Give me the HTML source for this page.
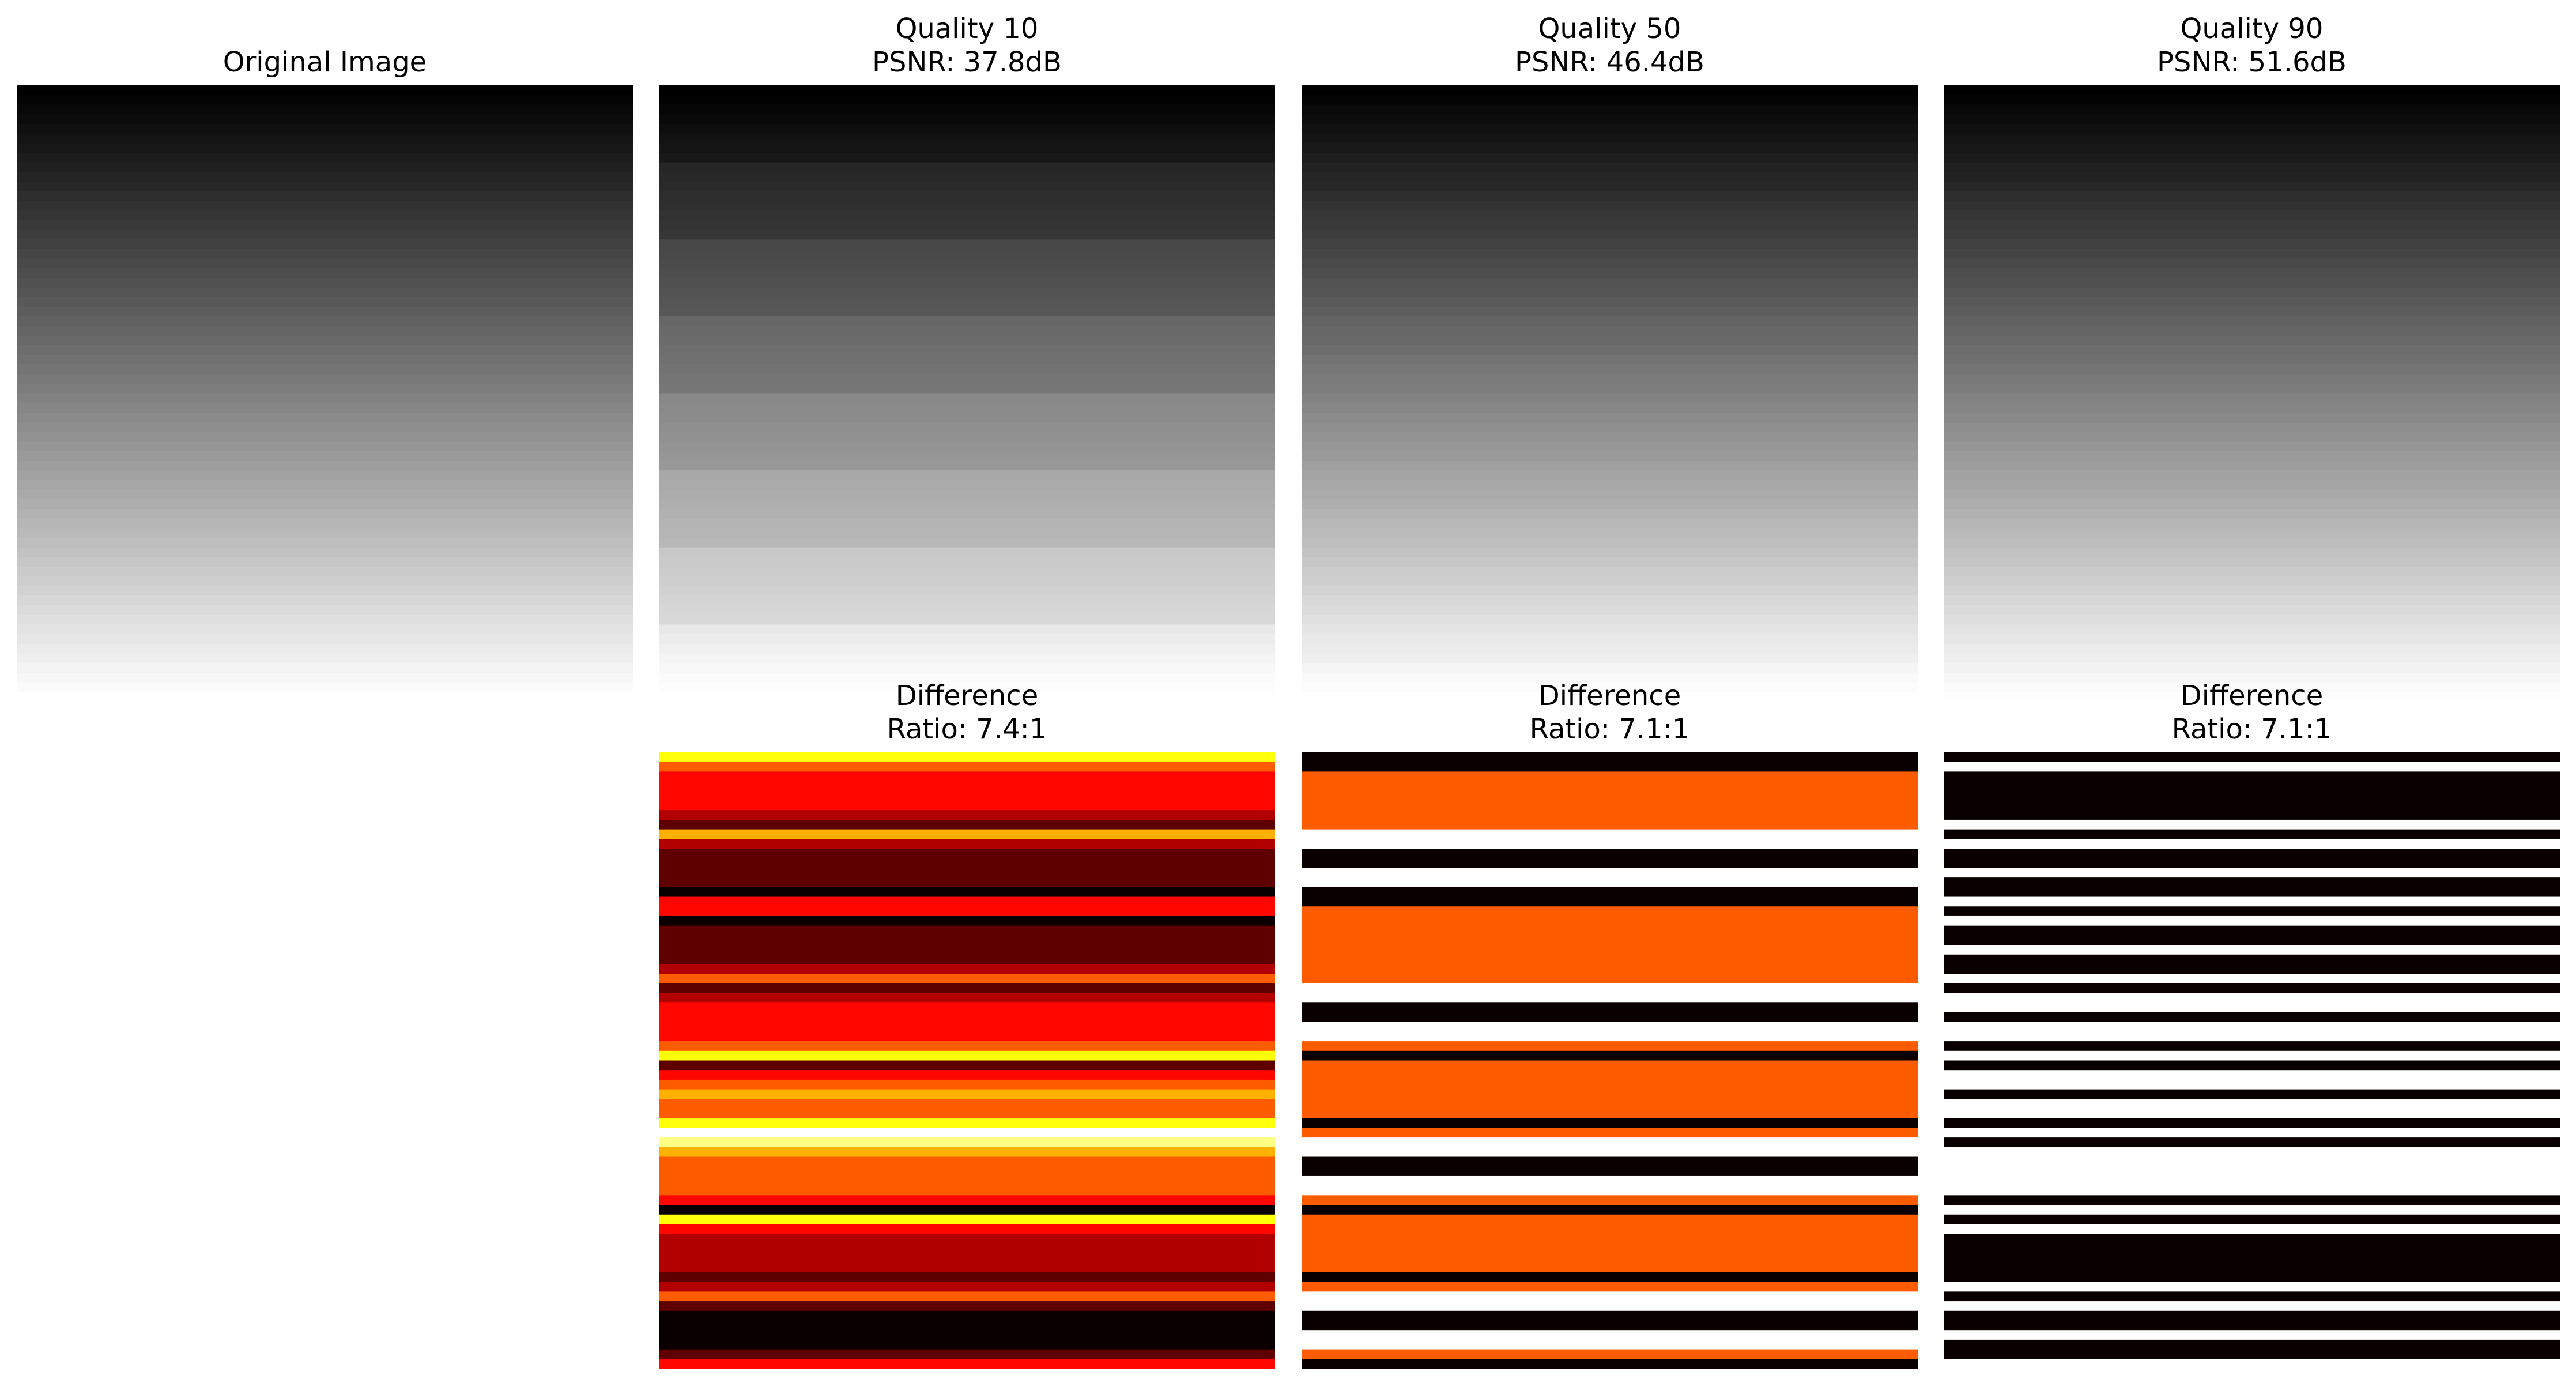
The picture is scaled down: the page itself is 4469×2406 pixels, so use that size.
<!DOCTYPE html>
<html><head><meta charset="utf-8"><style>
html,body{margin:0;padding:0;background:#fff;}
svg{display:block;}
text{font-family:"DejaVu Sans","Liberation Sans",sans-serif;font-size:48px;fill:#000;}
</style></head><body>
<svg id="fig" width="4469" height="2406" viewBox="0 0 4469 2406" xmlns="http://www.w3.org/2000/svg"></svg>
<script>
// Row grey levels (64 rows, top to bottom)
const origGray = [0,4,8,12,16,20,24,28,32,36,40,45,49,53,57,61,65,69,73,77,81,85,89,93,97,101,105,109,113,117,121,125,130,134,138,142,146,150,154,158,162,166,170,174,178,182,186,190,194,198,202,206,210,215,219,223,227,231,235,239,243,247,251,255];
const q10Gray = [0,2,6,10,14,18,21,24,38,40,42,45,47,50,52,54,71,73,75,78,80,83,85,87,103,105,107,110,112,115,117,119,136,138,140,143,145,148,150,152,168,170,172,175,177,180,182,184,200,202,204,207,209,212,214,216,232,236,240,244,248,251,253,255];
// Difference levels per row (hot colormap, vmax per panel)
const diffQ10 = [6,4,3,3,3,3,2,1,5,2,1,1,1,1,0,3,3,0,1,1,1,1,2,4,1,2,3,3,3,3,4,6,1,3,4,5,4,4,6,8,7,5,4,4,4,4,3,0,6,3,2,2,2,2,1,2,4,1,0,0,0,0,1,3];
const diffQ50 = [0,0,1,1,1,1,1,1,2,2,0,0,2,2,0,0,1,1,1,1,1,1,1,1,2,2,0,0,2,2,1,0,1,1,1,1,1,1,0,1,2,2,0,0,2,2,1,0,1,1,1,1,1,1,0,1,2,2,0,0,2,2,1,0];
const diffQ90 = [0,1,0,0,0,0,0,1,0,1,0,0,1,0,0,1,0,1,0,0,1,0,0,1,0,1,1,0,1,1,0,1,0,1,1,0,1,1,0,1,0,1,1,1,1,1,0,1,0,1,0,0,0,0,0,1,0,1,0,0,1,0,0,1];
const diffMax = [8,2,1];
const qualities = ["Quality 10","Quality 50","Quality 90"];
const psnrLabels = ["PSNR: 37.8dB","PSNR: 46.4dB","PSNR: 51.6dB"];
const ratioLabels = ["Ratio: 7.4:1","Ratio: 7.1:1","Ratio: 7.1:1"];

const NS="http://www.w3.org/2000/svg";
const svg=document.getElementById('fig');
const colX=[29,1143,2258,3372], W=1069, topY=148, botY=1305, H=1069, ROWS=64;
const rowY=(y0,i)=>y0+i*H/ROWS;
function hot(v){
  const r=Math.min(1,v/0.365), g=Math.max(0,Math.min(1,(v-0.365)/0.375)), b=Math.max(0,Math.min(1,(v-0.74)/0.26));
  return `rgb(${Math.round(0.0416*255+(255-0.0416*255)*r)},${Math.round(255*g)},${Math.round(255*b)})`;
}
function grey(v){v=Math.max(0,Math.min(255,Math.round(v)));return `rgb(${v},${v},${v})`;}
function panel(x,y,colors,name){
  const g=document.createElementNS(NS,'g');
  
  
  colors.forEach((c,i)=>{
    const r=document.createElementNS(NS,'rect');
    
    
    const y0=rowY(y,i), y1=rowY(y,i+1);
    r.setAttribute('x',x);r.setAttribute('y',y0);r.setAttribute('width',W);r.setAttribute('height',(y1-y0+0.6));
    r.setAttribute('fill',c);
    g.appendChild(r);
  });
  svg.appendChild(g);
}
function title(cx,baseline,lines,name){
  const t=document.createElementNS(NS,'text');
  
  
  t.setAttribute('text-anchor','middle');
  lines.forEach((l,i)=>{
    const s=document.createElementNS(NS,'tspan');
    s.setAttribute('x',cx);s.setAttribute('y',baseline-(lines.length-1-i)*58);
    s.textContent=l;t.appendChild(s);
  });
  svg.appendChild(t);
}
panel(colX[0],topY,origGray.map(grey),'original-image');
title(colX[0]+W/2,124,["Original Image"],'original-title');
const diffs=[diffQ10,diffQ50,diffQ90];
const comp=[q10Gray, origGray.map((v,i)=>v+diffQ50[i]), origGray.map((v,i)=>v-diffQ90[i])];
for(let k=0;k<3;k++){
  const x=colX[k+1];
  const q=qualities[k].split(' ')[1];
  panel(x,topY,comp[k].map(grey),'compressed-image-q'+q);
  title(x+W/2,124,[qualities[k],psnrLabels[k]],'compressed-title-q'+q);
  panel(x,botY,diffs[k].map(v=>hot(v/diffMax[k])),'difference-map-q'+q);
  title(x+W/2,1281,["Difference",ratioLabels[k]],'difference-title-q'+q);
}
</script>
</body></html>
